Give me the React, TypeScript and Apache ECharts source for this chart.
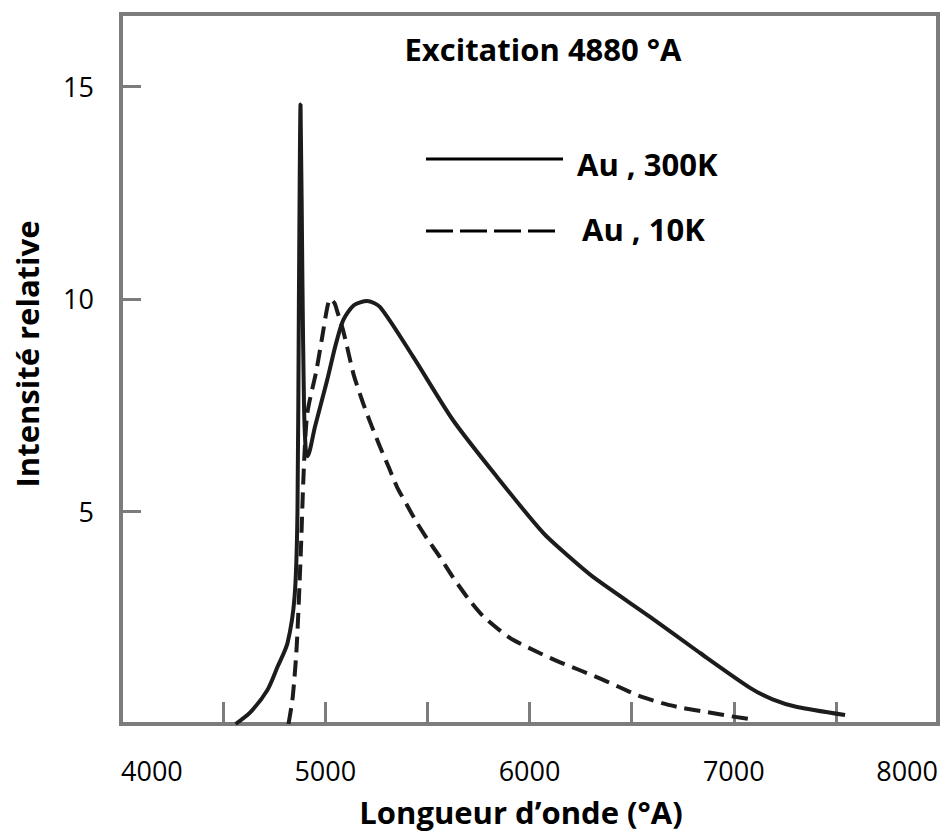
import React, { useEffect, useRef } from "react";
import * as echarts from "echarts";

// ---- data ----
const wavelength300K = [
  4561, 4634, 4717, 4766, 4815, 4850, 4864, 4871, 4879, 4888, 4896, 4905, 4913,
  4950, 5010, 5050, 5088, 5140, 5205, 5268, 5430, 5625, 5841, 6066, 6190, 6311, 6590,
  6835, 7080, 7190, 7310, 7545,
];
const intensity300K = [
  0.0, 0.28, 0.8, 1.34, 1.9, 3.0, 5.0, 10.0, 14.57, 10.5, 7.5, 6.4, 6.3,
  7.0, 8.1, 8.9, 9.5, 9.85, 9.95, 9.81, 8.64, 7.15, 5.81, 4.5, 3.95, 3.46, 2.52,
  1.67, 0.85, 0.58, 0.4, 0.21,
];
const wavelength10K = [
  4820, 4840, 4860, 4880, 4895, 4912, 4956, 4985, 5010, 5024, 5045, 5059, 5085,
  5107, 5140, 5185, 5228, 5268, 5310, 5351, 5400, 5449, 5500, 5561, 5624, 5700,
  5770, 5850, 5919, 6049, 6150, 6244, 6341, 6439, 6537, 6649, 6746, 6870, 6990, 7107,
];
const intensity10K = [
  0.0, 0.6, 1.8, 4.0, 6.0, 7.3, 8.3, 9.1, 9.8, 10.0, 9.9, 9.7, 9.3,
  8.87, 8.2, 7.55, 7.0, 6.52, 6.05, 5.58, 5.15, 4.73, 4.35, 3.93, 3.46, 2.95,
  2.55, 2.22, 1.98, 1.67, 1.45, 1.27, 1.08, 0.87, 0.66, 0.49, 0.38, 0.28, 0.18, 0.1,
];
const xTickLabels = ["4000", "5000", "6000", "7000", "8000"];
const yTickLabels = ["5", "10", "15"];
const seriesNames = ["Au , 300K", "Au , 10K"];
const titleText = "Excitation 4880 °A";
const xAxisTitle = "Longueur d’onde (°A)";
const yAxisTitle = "Intensité relative";

const FONT = "'Open Sans', 'Noto Sans', sans-serif";
const CURVE = "#1c1c1c";
const FRAME = "#7c7c7c";

export default function App() {
  const ref = useRef<HTMLDivElement>(null);

  useEffect(() => {
    if (!ref.current) return;
    const chart = echarts.init(ref.current, null, { renderer: "svg" });

    const pairs = (xs: number[], ys: number[]) => xs.map((x, i) => [x, ys[i]]);

    chart.setOption({
      animation: false,
      backgroundColor: "#ffffff",
      grid: {
        left: 121,
        right: 5,
        top: 14,
        bottom: 114,
        show: true,
        borderColor: FRAME,
        borderWidth: 4,
        containLabel: false,
      },
      xAxis: {
        type: "value",
        min: 4000,
        max: 8000,
        interval: 500,
        axisLine: { show: false },
        splitLine: { show: false },
        axisTick: { show: true, inside: true, length: 22, lineStyle: { color: FRAME, width: 3 } },
        axisLabel: {
          margin: 33,
          fontSize: 27,
          color: "#000",
          fontFamily: FONT,
          showMinLabel: true,
          showMaxLabel: true,
          alignMinLabel: "left",
          alignMaxLabel: "right",
          formatter: (v: number) => (xTickLabels.includes(String(v)) ? String(v) : ""),
        },
      },
      yAxis: {
        type: "value",
        min: 0,
        max: 16.7,
        interval: 5,
        axisLine: { show: false },
        splitLine: { show: false },
        axisTick: { show: true, inside: true, length: 20, lineStyle: { color: FRAME, width: 3 } },
        axisLabel: {
          margin: 27,
          fontSize: 27,
          color: "#000",
          fontFamily: FONT,
          formatter: (v: number) => (yTickLabels.includes(String(v)) ? String(v) : ""),
        },
      },
      series: [
        {
          name: seriesNames[0],
          type: "line",
          data: pairs(wavelength300K, intensity300K),
          showSymbol: false,
          smooth: 0.25,
          lineStyle: { color: CURVE, width: 4 },
        },
        {
          name: seriesNames[1],
          type: "line",
          data: pairs(wavelength10K, intensity10K),
          showSymbol: false,
          smooth: 0.25,
          lineStyle: { color: CURVE, width: 4, type: [16, 8] },
        },
      ],
      graphic: [
        {
          type: "text",
          x: 543,
          y: 49,
          style: {
            text: titleText,
            fill: "#000",
            font: `bold 31px ${FONT}`,
            align: "center",
            verticalAlign: "middle",
          },
        },
        {
          type: "line",
          shape: { x1: 426, y1: 159, x2: 563, y2: 159 },
          style: { stroke: "#000", lineWidth: 3 },
        },
        {
          type: "text",
          x: 577,
          y: 164,
          style: {
            text: seriesNames[0],
            fill: "#000",
            font: `bold 31px ${FONT}`,
            align: "left",
            verticalAlign: "middle",
          },
        },
        {
          type: "line",
          shape: { x1: 426, y1: 231, x2: 556, y2: 231 },
          style: { stroke: "#000", lineWidth: 3, lineDash: [27, 7] },
        },
        {
          type: "text",
          x: 582,
          y: 229,
          style: {
            text: seriesNames[1],
            fill: "#000",
            font: `bold 31px ${FONT}`,
            align: "left",
            verticalAlign: "middle",
          },
        },
        {
          type: "text",
          x: 521,
          y: 812,
          style: {
            text: xAxisTitle,
            fill: "#000",
            font: `bold 31px ${FONT}`,
            align: "center",
            verticalAlign: "middle",
          },
        },
        {
          type: "text",
          x: 27,
          y: 354,
          rotation: Math.PI / 2,
          style: {
            text: yAxisTitle,
            fill: "#000",
            font: `bold 31px ${FONT}`,
            align: "center",
            verticalAlign: "middle",
          },
        },
      ],
    });

    return () => chart.dispose();
  }, []);

  return (
    <div
      ref={ref}
      style={{ position: "fixed", left: 0, top: 0, width: 943, height: 838, background: "#fff" }}
    />
  );
}
